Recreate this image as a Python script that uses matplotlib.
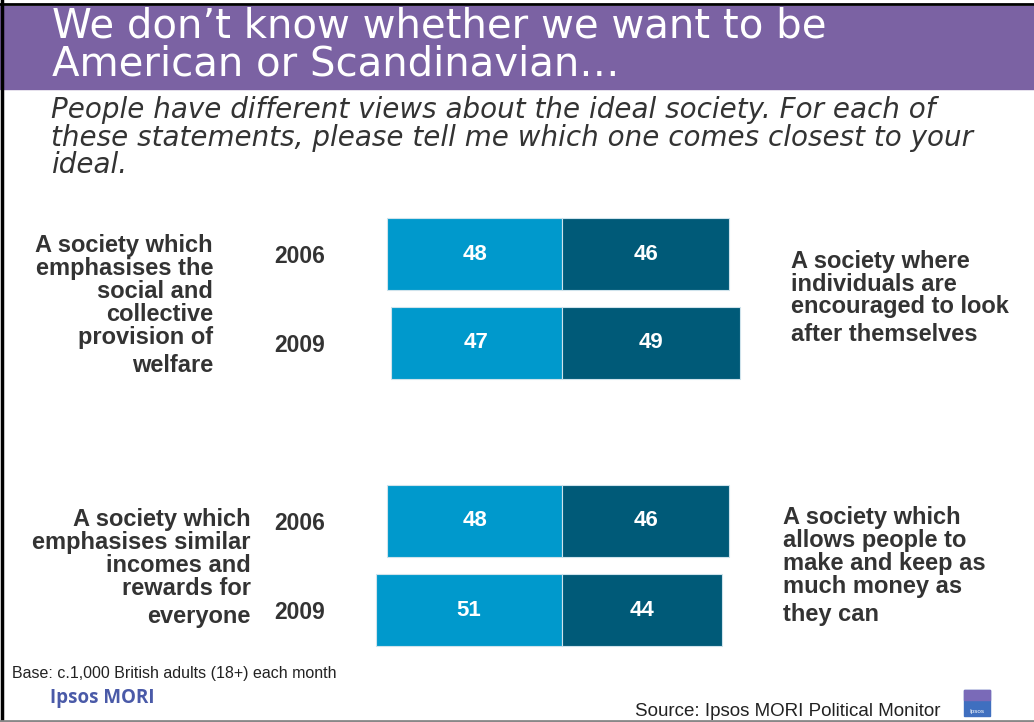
import matplotlib.pyplot as plt
from matplotlib.patches import Rectangle

# survey results, % choosing each statement
years = ['2006', '2009', '2006', '2009']
collective = [48, 47, 48, 51]   # left-hand statements
individual = [46, 49, 46, 44]   # right-hand statements
row_pos = [0, 1, 3, 4]

left_labels = ['A society which\nemphasises the\nsocial and\ncollective\nprovision of\nwelfare',
               'A society which\nemphasises similar\nincomes and\nrewards for\neveryone']
right_labels = ['A society where\nindividuals are\nencouraged to look\nafter themselves',
                'A society which\nallows people to\nmake and keep as\nmuch money as\nthey can']

title = 'We don\u2019t know whether we want to be\nAmerican or Scandinavian\u2026'
question = ('People have different views about the ideal society. For each of\n'
            'these statements, please tell me which one comes closest to your\n'
            'ideal.')

plt.rcParams['font.family'] = ['Liberation Sans', 'DejaVu Sans']

W, H = 1034, 722
light = '#0099cc'
dark = '#005a78'
txt = '#333333'

fig = plt.figure(figsize=(W / 100, H / 100), dpi=100)

# pixel-space layer for the slide furniture
bg = fig.add_axes([0, 0, 1, 1])
bg.set_xlim(0, W)
bg.set_ylim(H, 0)
bg.axis('off')
bg.add_patch(Rectangle((0, 6), W, 83, color='#7b62a3', zorder=0))
bg.plot([1.5, 1.5], [0, H], color='black', lw=2.5)
bg.plot([0, W], [4, 4], color='black', lw=2)
bg.plot([0, W], [720.5, 720.5], color='#888888', lw=2)


def stacked(x, y0, text, step, last_gap=0, **kw):
    """Write text line by line from baseline y0, with an extra gap before the last line."""
    lines = text.split('\n')
    for i, line in enumerate(lines):
        y = y0 + i * step + (last_gap if i == len(lines) - 1 and i > 0 else 0)
        bg.text(x, y, line, va='baseline', **kw)


stacked(52, 38, title, 38, color='white', fontsize=29, family='DejaVu Sans')
stacked(51, 118, question, 27.5, color=txt, fontsize=20, style='italic',
        family='DejaVu Sans')

lab_kw = dict(color=txt, fontsize=17, weight='bold')
stacked(213, 252, left_labels[0], 23, 5, ha='right', **lab_kw)
stacked(251, 526, left_labels[1], 23, 5, ha='right', **lab_kw)
stacked(791, 268, right_labels[0], 22.7, 5, ha='left', **lab_kw)
stacked(783, 524, right_labels[1], 23, 5, ha='left', **lab_kw)

bg.text(12, 678, 'Base: c.1,000 British adults (18+) each month', color='#222222',
        fontsize=11.5, va='baseline')
bg.text(50, 703, 'Ipsos MORI', color='#4a5aa8', fontsize=13.5, weight='bold',
        va='baseline', family='Open Sans')
bg.text(635, 716, 'Source: Ipsos MORI Political Monitor', color='#222222',
        fontsize=13.5, va='baseline')
bg.add_patch(Rectangle((964, 690), 26, 26, color='#3f6fbf', zorder=2))
bg.add_patch(Rectangle((964, 690), 26, 10, color='#7a6ab8', zorder=2))
bg.text(977, 711, 'Ipsos', color='white', fontsize=4.5, ha='center', va='center',
        zorder=3)

# diverging bars, centre line at x=562 px, 3.64 px per percentage point
px_per = 3.64
span = 60
x0 = 562 - span * px_per
y_top = 254 - 0.5 * 89
y_bot = 610 + 0.5 * 89
ax = fig.add_axes([x0 / W, 1 - y_bot / H, 2 * span * px_per / W, (y_bot - y_top) / H])
ax.set_xlim(-span, span)
ax.set_ylim(4.5, -0.5)
ax.axis('off')

ax.barh(row_pos, [-v for v in collective], height=0.81, color=light,
        edgecolor='#cfe3ec', linewidth=0.8)
ax.barh(row_pos, individual, height=0.81, color=dark,
        edgecolor='#cfe3ec', linewidth=0.8)
for y, l, r, yr in zip(row_pos, collective, individual, years):
    ax.text(-l / 2, y, str(l), color='white', fontsize=16, weight='bold',
            ha='center', va='center')
    ax.text(r / 2, y, str(r), color='white', fontsize=16, weight='bold',
            ha='center', va='center')
    ax.text(-(562 - 300) / px_per, y + 0.03, yr, color=txt, fontsize=16.5,
            weight='bold', ha='center', va='center')

fig.savefig('out.png', dpi=100)
